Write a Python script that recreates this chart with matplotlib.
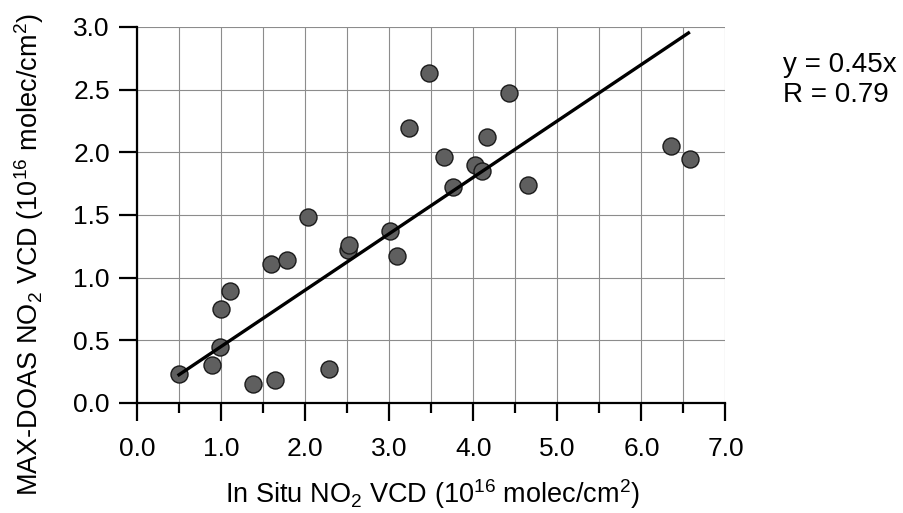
import numpy as np
import matplotlib
matplotlib.use("Agg")
import matplotlib.pyplot as plt
from matplotlib.ticker import MultipleLocator

plt.rcParams["font.family"] = ["Liberation Sans", "DejaVu Sans"]
plt.rcParams["mathtext.fontset"] = "custom"
plt.rcParams["mathtext.rm"] = "Liberation Sans"
plt.rcParams["mathtext.it"] = "Liberation Sans:italic"

# --- data ---
in_situ = [0.50, 0.89, 0.99, 1.00, 1.11, 1.38, 1.64, 1.59, 1.78, 2.03, 2.28, 2.51, 2.52,
           3.01, 3.09, 3.24, 3.47, 3.65, 3.76, 4.02, 4.10, 4.16, 4.43, 4.65, 6.35, 6.58]
max_doas = [0.23, 0.30, 0.45, 0.75, 0.89, 0.15, 0.18, 1.11, 1.14, 1.48, 0.27, 1.22, 1.26,
            1.37, 1.17, 2.19, 2.63, 1.96, 1.72, 1.90, 1.85, 2.12, 2.47, 1.74, 2.05, 1.95]
slope = 0.45
r_value = 0.79
line_end = 6.56   # where the drawn fit line stops

FS = 19

fig = plt.figure(figsize=(9.04, 5.13), dpi=100)
ax = fig.add_axes([0.1515, 0.2145, 0.651, 0.733])

ax.scatter(in_situ, max_doas, s=150, color="#5f5f5f", edgecolor="#1a1a1a",
           linewidth=1.0, zorder=3)

# fit line y = 0.45x
xfit = np.array([min(in_situ), line_end])
ax.plot(xfit, slope * xfit, color="black", lw=2.4, zorder=4)

ax.set_xlim(0, 7)
ax.set_ylim(0, 3)
ax.xaxis.set_major_locator(MultipleLocator(1.0))
ax.xaxis.set_minor_locator(MultipleLocator(0.5))
ax.yaxis.set_major_locator(MultipleLocator(0.5))
ax.xaxis.set_major_formatter(lambda v, p: f"{v:.1f}")
ax.yaxis.set_major_formatter(lambda v, p: f"{v:.1f}")

ax.grid(True, which="both", color="#8c8c8c", lw=0.8)
ax.set_axisbelow(True)

for s in ["top", "right"]:
    ax.spines[s].set_visible(False)
for s in ["left", "bottom"]:
    ax.spines[s].set_linewidth(1.6)

ax.tick_params(axis="both", which="major", direction="out", length=13, width=1.6,
               labelsize=FS, color="black")
ax.tick_params(axis="x", which="minor", direction="out", length=7, width=1.6)
ax.tick_params(axis="x", which="major", pad=11.5)
ax.tick_params(axis="y", which="major", pad=6.5)

# axis titles placed like the reference (y title centred on the figure height)
fig.text(432 / 904, 1 - 494 / 513,
         r"In Situ NO$_2$ VCD (10$^{16}$ molec/cm$^2$)", fontsize=FS + 0.5,
         ha="center", va="center")
fig.text(29 / 904, 1 - 255 / 513,
         r"MAX-DOAS NO$_2$ VCD (10$^{16}$ molec/cm$^2$)", fontsize=FS + 0.5,
         ha="center", va="center", rotation=90)

fig.text(0.866, 0.873, f"y = {slope:.2f}x", fontsize=FS + 1, va="center", ha="left")
fig.text(0.866, 0.815, f"R = {r_value:.2f}", fontsize=FS + 1, va="center", ha="left")

fig.savefig("out.png", dpi=100)
